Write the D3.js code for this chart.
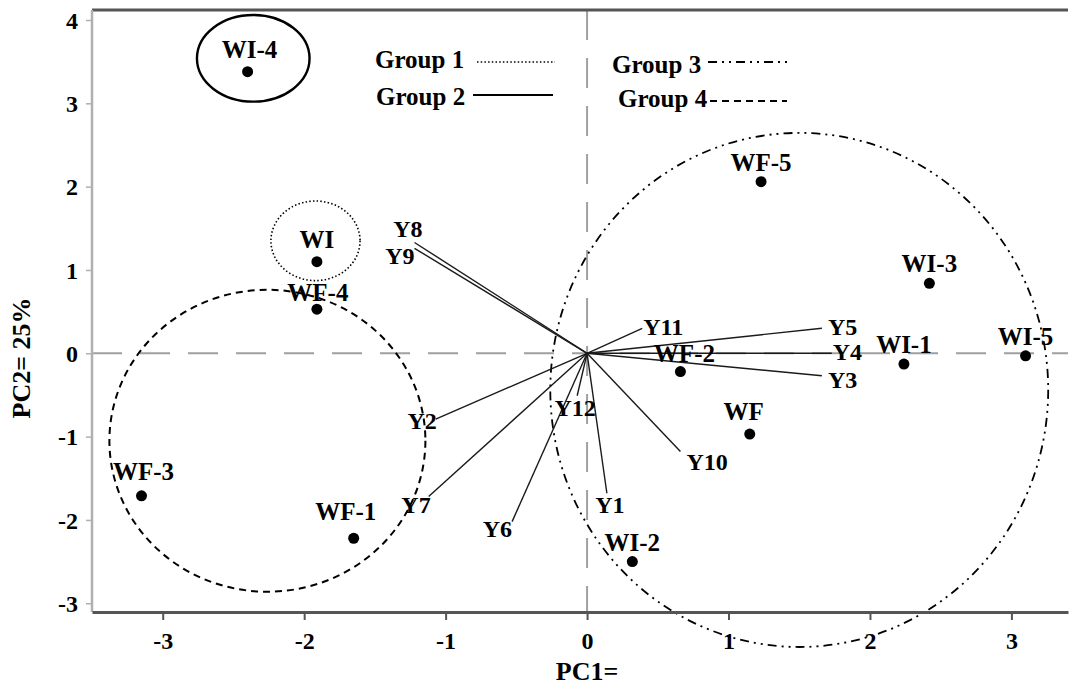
<!DOCTYPE html>
<html>
<head>
<meta charset="utf-8">
<script src="https://d3js.org/d3.v7.min.js"></script>
<style>
  html, body { margin: 0; padding: 0; background: #fff; }
  text { font-family: "Liberation Serif", "Times New Roman", serif; font-weight: bold; fill: #000; }
</style>
</head>
<body>
<div id="biplot"></div>
<script>
// sample scores
var scoreNames = ["WI-4", "WI", "WF-4", "WF-3", "WF-1", "WI-2", "WF-2", "WF", "WF-5", "WI-3", "WI-1", "WI-5"];
var scorePC1 = [-2.40, -1.91, -1.91, -3.15, -1.65, 0.32, 0.66, 1.15, 1.23, 2.42, 2.24, 3.10];
var scorePC2 = [3.38, 1.10, 0.53, -1.71, -2.22, -2.50, -0.22, -0.97, 2.06, 0.84, -0.13, -0.03];

// variable loadings (arrows from origin)
var loadingNames = ["Y1", "Y2", "Y3", "Y4", "Y5", "Y6", "Y7", "Y8", "Y9", "Y10", "Y11", "Y12"];
var loadingPC1 = [0.14, -1.07, 1.66, 1.73, 1.66, -0.53, -1.12, -1.22, -1.22, 0.66, 0.39, -0.07];
var loadingPC2 = [-1.68, -0.79, -0.27, 0.00, 0.30, -2.02, -1.72, 1.33, 1.26, -1.18, 0.30, -0.51];

// group ellipses
var groupNames = ["Group 1", "Group 2", "Group 3", "Group 4"];
var groupCX = [-1.92, -2.36, 1.50, -2.26];
var groupCY = [1.35, 3.54, -0.44, -1.05];
var groupRX = [0.315, 0.398, 1.76, 1.117];
var groupRY = [0.478, 0.520, 3.085, 1.812];

var xTicks = [-3, -2, -1, 0, 1, 2, 3];
var yTicks = [-3, -2, -1, 0, 1, 2, 3, 4];
var xTitle = "PC1=";
var yTitle = "PC2= 25%";

(function () {
    "use strict";

    var width = 1070, height = 686,
        left = 92, right = 1068, top = 10, bottom = 612;

    var x = d3.scaleLinear().domain([-3.5, 3.4]).range([left, right]);
    var y = d3.scaleLinear().domain([-3.105, 4.12]).range([bottom, top]);

    // plain hyphen minus like the original figure
    var fmt = function (d) { return String(d); };

    var svg = d3.select("#biplot").append("svg")
        .attr("width", width)
        .attr("height", height);

    // line style per group
    var groupStyle = {
        "Group 1": { dash: "1.5,2.2", w: 1.6 },
        "Group 2": { dash: null, w: 2.4 },
        "Group 3": { dash: "9,5,2,5,2,5", w: 1.8 },
        "Group 4": { dash: "7,5", w: 2 }
    };

    // label placement tweaks (anchor, dx, dy) for the arrows
    var loadingLabel = {
        "Y1": ["middle", 3, 20], "Y2": ["end", 1, 10], "Y3": ["start", 6, 12],
        "Y4": ["start", 1, 7], "Y5": ["start", 6, 7], "Y6": ["end", 0, 15],
        "Y7": ["end", 2, 16], "Y8": ["end", 8, -5], "Y9": ["end", 0, 16],
        "Y10": ["start", 6, 18], "Y11": ["start", 1, 7], "Y12": ["middle", -2, 20]
    };
    var scoreNudge = { "WI-4": [2, -14], "WI": [0, -14], "WF-4": [1, -8], "WF-3": [2, -16], "WF-1": [-8, -18], "WF": [-6, -14], "WF-2": [4, -10] };

    // zero reference lines
    svg.append("line")
        .attr("x1", left).attr("x2", right)
        .attr("y1", y(0)).attr("y2", y(0))
        .attr("stroke", "#a0a0a0").attr("stroke-width", 2)
        .attr("stroke-dasharray", "30,18");
    svg.append("line")
        .attr("x1", x(0)).attr("x2", x(0))
        .attr("y1", top).attr("y2", bottom)
        .attr("stroke", "#a0a0a0").attr("stroke-width", 2)
        .attr("stroke-dasharray", "30,18");

    // group ellipses
    svg.append("g").selectAll("ellipse")
        .data(groupNames)
        .enter().append("ellipse")
            .attr("cx", function (d, i) { return x(groupCX[i]); })
            .attr("cy", function (d, i) { return y(groupCY[i]); })
            .attr("rx", function (d, i) { return x(groupRX[i]) - x(0); })
            .attr("ry", function (d, i) { return y(0) - y(groupRY[i]); })
            .attr("fill", "none")
            .attr("stroke", "#000")
            .attr("stroke-width", function (d) { return groupStyle[d].w; })
            .attr("stroke-dasharray", function (d) { return groupStyle[d].dash; });

    // loading arrows
    var arrows = svg.append("g");
    arrows.selectAll("line")
        .data(loadingNames)
        .enter().append("line")
            .attr("x1", x(0)).attr("y1", y(0))
            .attr("x2", function (d, i) { return x(loadingPC1[i]); })
            .attr("y2", function (d, i) { return y(loadingPC2[i]); })
            .attr("stroke", "#1a1a1a")
            .attr("stroke-width", 1.4);

    arrows.selectAll("text")
        .data(loadingNames)
        .enter().append("text")
            .attr("x", function (d, i) { return x(loadingPC1[i]) + loadingLabel[d][1]; })
            .attr("y", function (d, i) { return y(loadingPC2[i]) + loadingLabel[d][2]; })
            .attr("text-anchor", function (d) { return loadingLabel[d][0]; })
            .attr("font-size", 24)
            .text(function (d) { return d; });

    // sample points
    var pts = svg.append("g");
    pts.selectAll("circle")
        .data(scoreNames)
        .enter().append("circle")
            .attr("cx", function (d, i) { return x(scorePC1[i]); })
            .attr("cy", function (d, i) { return y(scorePC2[i]); })
            .attr("r", 5.5)
            .attr("fill", "#000");

    pts.selectAll("text")
        .data(scoreNames)
        .enter().append("text")
            .attr("x", function (d, i) { return x(scorePC1[i]) + (scoreNudge[d] ? scoreNudge[d][0] : 0); })
            .attr("y", function (d, i) { return y(scorePC2[i]) + (scoreNudge[d] ? scoreNudge[d][1] : -11); })
            .attr("text-anchor", "middle")
            .attr("font-size", 25)
            .text(function (d) { return d; });

    // legend
    var legendPos = [[375, 68, 477, 555, 62], [376, 105, 473, 553, 95], [612, 73, 708, 787, 62], [618, 107, 710, 787, 101]];
    var legend = svg.append("g");
    groupNames.forEach(function (g, i) {
        var p = legendPos[i];
        legend.append("text")
            .attr("x", p[0]).attr("y", p[1])
            .attr("font-size", 25)
            .text(g);
        legend.append("line")
            .attr("x1", p[2]).attr("x2", p[3])
            .attr("y1", p[4]).attr("y2", p[4])
            .attr("stroke", "#000")
            .attr("stroke-width", groupStyle[g].w > 2 ? 2 : groupStyle[g].w)
            .attr("stroke-dasharray", groupStyle[g].dash);
    });

    // frame: top and bottom dark, left light grey
    svg.append("line")
        .attr("x1", left).attr("x2", right).attr("y1", top).attr("y2", top)
        .attr("stroke", "#555").attr("stroke-width", 3);
    svg.append("line")
        .attr("x1", left).attr("x2", left).attr("y1", top).attr("y2", bottom)
        .attr("stroke", "#b0b0b0").attr("stroke-width", 2.5);

    var xAxis = svg.append("g")
        .attr("transform", "translate(0," + bottom + ")")
        .call(d3.axisBottom(x).tickValues(xTicks).tickFormat(fmt).tickSize(8).tickSizeOuter(0).tickPadding(9));
    xAxis.select(".domain").attr("stroke", "#555").attr("stroke-width", 3);
    xAxis.selectAll(".tick line").attr("stroke", "#555").attr("stroke-width", 2);
    xAxis.selectAll(".tick text")
        .attr("font-family", null).attr("font-size", 24).attr("dy", "0.85em");

    var yAxis = svg.append("g")
        .attr("transform", "translate(" + left + ",0)")
        .call(d3.axisLeft(y).tickValues(yTicks).tickFormat(fmt).tickSize(6).tickSizeOuter(0).tickPadding(8));
    yAxis.select(".domain").remove();
    yAxis.selectAll(".tick line").attr("stroke", "#b0b0b0").attr("stroke-width", 1.5);
    yAxis.selectAll(".tick text")
        .attr("font-family", null).attr("font-size", 24).attr("dy", "0.34em");

    // axis titles
    svg.append("text")
        .attr("x", x(0)).attr("y", 680)
        .attr("text-anchor", "middle")
        .attr("font-size", 26)
        .text(xTitle);
    svg.append("text")
        .attr("transform", "translate(30,358) rotate(-90)")
        .attr("text-anchor", "middle")
        .attr("font-size", 26)
        .text(yTitle);
}());
</script>
</body>
</html>
